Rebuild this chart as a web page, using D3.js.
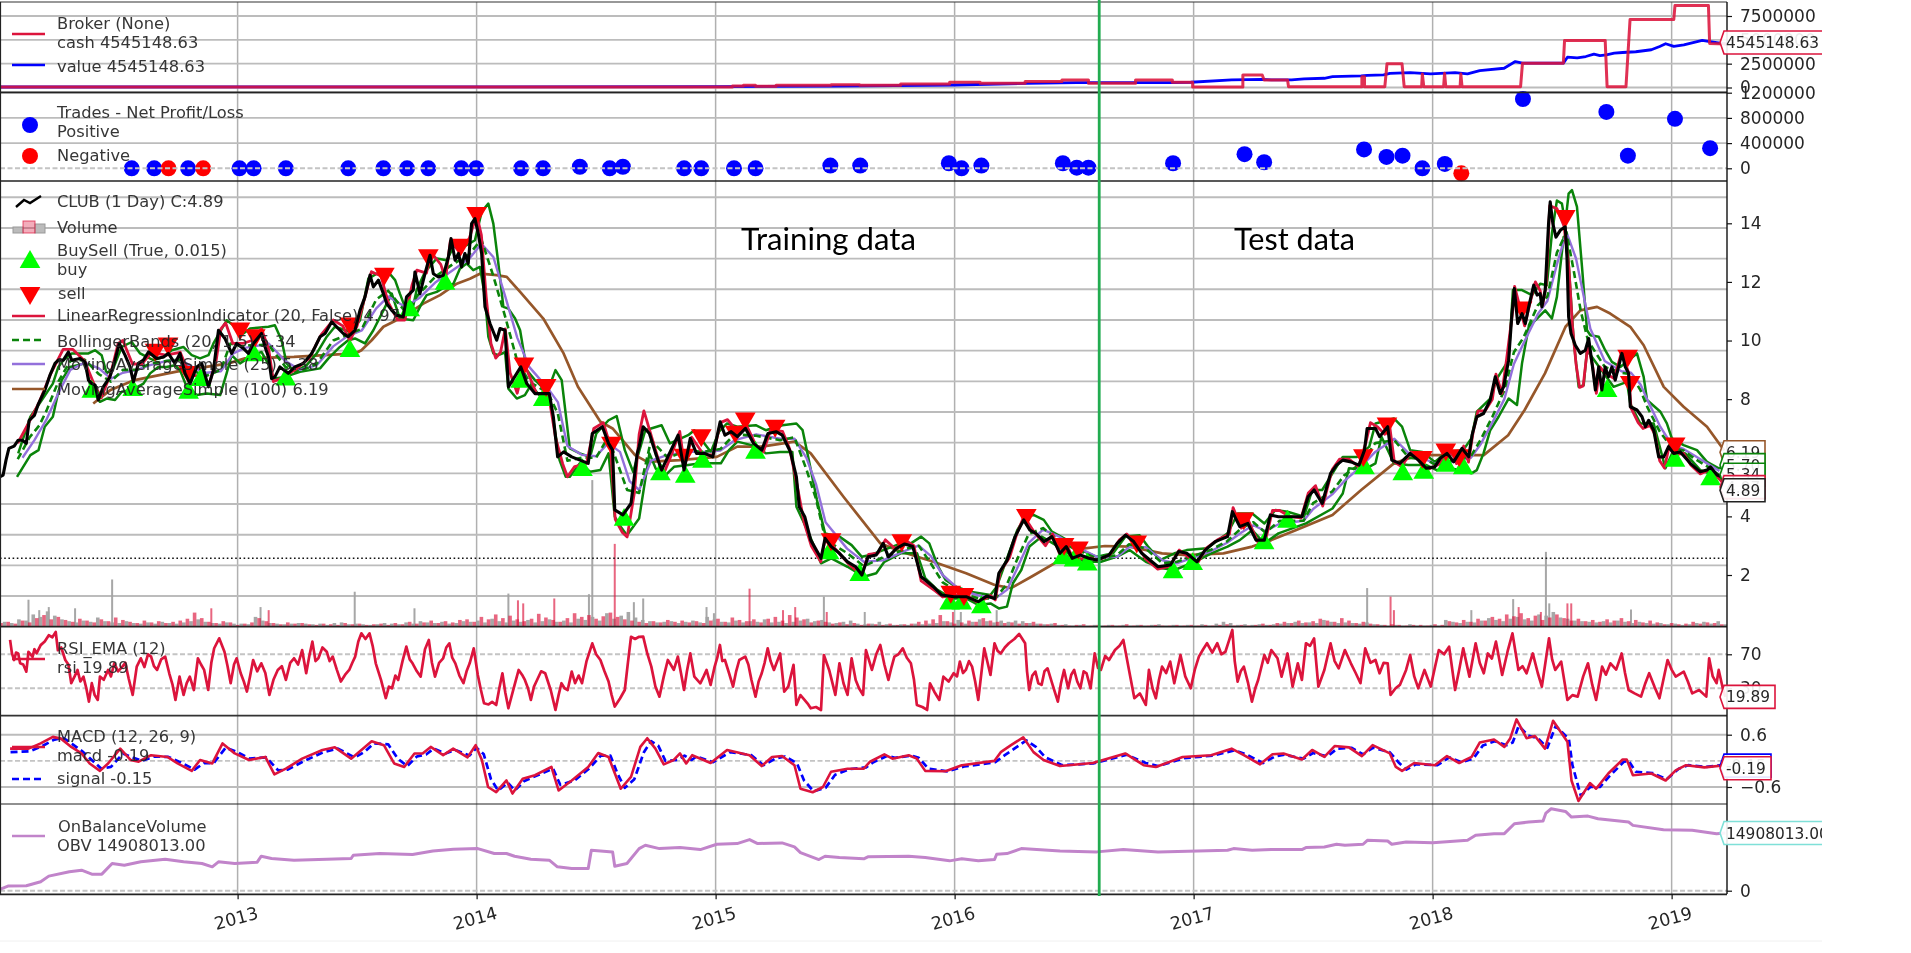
<!DOCTYPE html>
<html>
<head>
<meta charset="utf-8">
<script src="https://cdnjs.cloudflare.com/ajax/libs/d3/7.8.5/d3.min.js"></script>
<style>
html,body{margin:0;padding:0;background:#fff;overflow:hidden}
svg{display:block;filter:blur(.45px)}
</style>
</head>
<body>
<svg id="chart" width="1911" height="953" font-family="DejaVu Sans"></svg>
<script>
// DATA: [decimal year, value]
var years = [2013,2014,2015,2016,2017,2018,2019];
var splitYear = 2016.605;
var dottedPrice = 2.57;

// broker panel, in millions
var cash = [[2012,.05],[2014.3,.05],[2015.07,.04],[2015.07,.16],[2015.116,.16],[2015.116,.23],[2015.167,.23],[2015.167,.12],[2015.253,.12],[2015.253,.23],[2015.483,.23],[2015.483,.3],[2015.603,.3],[2015.603,.23],[2015.774,.23],[2015.774,.37],[2015.979,.37],[2015.979,.55],[2016.107,.55],[2016.107,.44],[2016.295,.44],[2016.295,.62],[2016.449,.62],[2016.449,.79],[2016.56,.79],[2016.56,.44],[2016.757,.44],[2016.757,.79],[2016.911,.79],[2016.911,.55],[2016.996,.55],[2016.996,.05],[2017.206,.05],[2017.206,1.32],[2017.287,1.32],[2017.295,.79],[2017.393,.79],[2017.397,.09],[2017.704,.09],[2017.704,1.14],[2017.715,1.14],[2017.715,.09],[2017.8,.09],[2017.809,2.48],[2017.872,2.48],[2017.881,.09],[2017.954,.09],[2017.957,1.42],[2017.963,.09],[2018.046,.09],[2018.05,1.49],[2018.055,.09],[2018.115,.09],[2018.118,1.42],[2018.123,.09],[2018.368,.09],[2018.376,2.55],[2018.547,2.55],[2018.552,4.94],[2018.722,4.94],[2018.73,.09],[2018.809,.09],[2018.826,7.12],[2019.009,7.12],[2019.014,8.6],[2019.154,8.6],[2019.159,4.62],[2019.23,4.55]];
var value = [[2012,.05],[2014,.06],[2015,.1],[2015.5,.15],[2016,.26],[2016.304,.44],[2016.509,.51],[2016.902,.51],[2016.988,.55],[2017.159,.79],[2017.287,.86],[2017.325,.79],[2017.41,.79],[2017.462,.9],[2017.547,.97],[2017.581,1.14],[2017.701,1.21],[2017.727,1.28],[2017.795,1.32],[2017.821,1.49],[2017.906,1.56],[2017.992,1.42],[2018.094,1.56],[2018.146,1.42],[2018.197,1.78],[2018.299,2.02],[2018.346,2.72],[2018.376,2.55],[2018.547,2.55],[2018.564,3.18],[2018.605,3.1],[2018.641,3.25],[2018.675,3.5],[2018.7,3.35],[2018.727,3.43],[2018.76,3.6],[2018.795,3.67],[2018.85,3.75],[2018.915,3.96],[2018.95,4.3],[2018.975,4.59],[2019.009,4.31],[2019.051,4.48],[2019.128,4.94],[2019.154,4.83],[2019.23,4.55]];

// trades panel
var tradesPos = [[2012.557,0],[2012.651,0],[2012.793,0],[2013.008,0],[2013.067,0],[2013.202,0],[2013.463,0],[2013.61,0],[2013.709,0],[2013.798,0],[2013.936,0],[2013.998,0],[2014.186,0],[2014.278,0],[2014.432,25000],[2014.557,0],[2014.612,25000],[2014.868,0],[2014.94,0],[2015.077,0],[2015.167,0],[2015.48,43000],[2015.605,43000],[2015.976,80000],[2016.029,0],[2016.112,43000],[2016.453,80000],[2016.511,10000],[2016.56,10000],[2016.914,80000],[2017.213,224000],[2017.295,96000],[2017.713,300000],[2017.807,180000],[2017.874,200000],[2017.957,0],[2018.051,70000],[2018.378,1100000],[2018.727,895000],[2018.817,200000],[2019.014,785000],[2019.161,320000]];
var tradesNeg = [[2012.711,0],[2012.856,0],[2018.12,-80000]];

// price panel
var closePrice = [[2012.005,5.35],[2012.019,5.41],[2012.031,5.92],[2012.043,6.32],[2012.065,6.4],[2012.082,6.6],[2012.099,6.6],[2012.116,6.49],[2012.128,7.28],[2012.15,7.45],[2012.167,7.85],[2012.194,8.31],[2012.215,8.82],[2012.236,9.22],[2012.25,9.33],[2012.271,9.33],[2012.292,9.61],[2012.306,9.33],[2012.341,9.39],[2012.362,9.27],[2012.376,8.65],[2012.39,8.53],[2012.404,8.48],[2012.417,7.97],[2012.438,8.42],[2012.466,8.76],[2012.487,9.33],[2012.505,9.9],[2012.529,9.5],[2012.55,9.1],[2012.564,8.59],[2012.585,9.22],[2012.606,9.33],[2012.627,9.61],[2012.661,9.39],[2012.69,9.44],[2012.71,9.56],[2012.738,9.22],[2012.759,9.56],[2012.78,8.88],[2012.801,8.53],[2012.829,9.1],[2012.85,9.22],[2012.878,8.42],[2012.899,8.99],[2012.92,10.35],[2012.947,10.07],[2012.975,9.56],[2012.996,9.9],[2013.024,9.73],[2013.045,9.56],[2013.066,9.9],[2013.1,10.24],[2013.115,9.78],[2013.129,9.44],[2013.142,8.7],[2013.156,8.76],[2013.177,9.1],[2013.212,8.88],[2013.24,9.1],[2013.275,9.22],[2013.31,9.56],[2013.324,9.78],[2013.345,10.13],[2013.366,10.24],[2013.394,10.64],[2013.421,10.41],[2013.442,10.24],[2013.463,10.13],[2013.491,10.35],[2013.512,11.03],[2013.533,11.49],[2013.554,12.23],[2013.568,11.83],[2013.589,12.06],[2013.61,11.6],[2013.624,11.26],[2013.645,11.03],[2013.666,10.86],[2013.693,10.81],[2013.707,11.49],[2013.735,11.72],[2013.742,12.34],[2013.763,11.6],[2013.784,12.28],[2013.805,12.91],[2013.819,12.28],[2013.84,12.17],[2013.861,12.23],[2013.882,12.85],[2013.893,13.48],[2013.91,12.74],[2013.924,12.97],[2013.937,12.51],[2013.951,12.97],[2013.965,12.63],[2013.979,13.99],[2013.993,14.16],[2014.007,13.65],[2014.021,12.97],[2014.035,11.15],[2014.056,10.58],[2014.084,10.01],[2014.098,10.41],[2014.119,10.35],[2014.133,8.42],[2014.159,8.76],[2014.185,9.1],[2014.21,8.53],[2014.244,8.19],[2014.304,8.19],[2014.321,7.4],[2014.339,6.03],[2014.364,6.2],[2014.398,6.03],[2014.432,5.92],[2014.467,5.81],[2014.484,6.83],[2014.526,7.06],[2014.552,6.49],[2014.569,6.26],[2014.578,4.22],[2014.612,4.05],[2014.646,4.44],[2014.672,6.15],[2014.68,6.38],[2014.697,7.06],[2014.723,6.83],[2014.749,6.15],[2014.774,5.58],[2014.8,6.03],[2014.843,6.77],[2014.868,5.58],[2014.894,6.66],[2014.92,6.15],[2014.954,6.15],[2014.988,6.03],[2015.019,7.23],[2015.039,6.77],[2015.065,6.89],[2015.091,6.72],[2015.125,7.0],[2015.159,6.49],[2015.193,6.26],[2015.219,6.83],[2015.253,6.89],[2015.279,6.77],[2015.313,6.2],[2015.338,5.35],[2015.35,4.33],[2015.373,3.99],[2015.398,3.19],[2015.441,2.57],[2015.458,3.25],[2015.484,2.97],[2015.518,2.74],[2015.552,2.45],[2015.586,2.28],[2015.612,2.0],[2015.638,2.62],[2015.672,2.68],[2015.701,3.08],[2015.723,2.62],[2015.757,2.91],[2015.791,3.06],[2015.825,2.97],[2015.86,1.94],[2015.911,1.6],[2015.945,1.32],[2015.997,1.26],[2016.048,1.26],[2016.099,1.09],[2016.134,1.28],[2016.168,1.2],[2016.185,2.06],[2016.22,2.51],[2016.253,3.31],[2016.289,3.88],[2016.315,3.53],[2016.34,3.42],[2016.374,3.14],[2016.407,3.31],[2016.441,2.74],[2016.467,2.97],[2016.492,2.57],[2016.526,2.68],[2016.561,2.57],[2016.595,2.51],[2016.646,2.68],[2016.68,3.08],[2016.715,3.36],[2016.749,3.14],[2016.783,2.74],[2016.817,2.51],[2016.851,2.28],[2016.903,2.34],[2016.937,2.8],[2016.971,2.74],[2017.014,2.45],[2017.048,2.85],[2017.09,3.14],[2017.142,3.31],[2017.162,4.16],[2017.193,3.65],[2017.227,3.76],[2017.261,3.19],[2017.296,3.19],[2017.321,4.05],[2017.355,3.99],[2017.393,3.99],[2017.453,3.99],[2017.479,4.67],[2017.504,4.9],[2017.538,4.44],[2017.573,5.47],[2017.598,5.75],[2017.624,5.92],[2017.658,5.86],[2017.692,5.75],[2017.715,6.26],[2017.726,7.0],[2017.761,7.0],[2017.778,6.72],[2017.812,7.06],[2017.829,5.92],[2017.863,5.81],[2017.906,6.15],[2017.94,5.92],[2017.974,5.64],[2018.009,5.69],[2018.032,5.98],[2018.06,6.15],[2018.088,5.86],[2018.123,6.32],[2018.151,6.03],[2018.165,6.77],[2018.185,7.4],[2018.213,7.51],[2018.241,7.97],[2018.262,8.76],[2018.283,8.19],[2018.297,8.42],[2018.318,9.33],[2018.332,10.92],[2018.342,11.77],[2018.356,10.58],[2018.374,10.92],[2018.388,10.58],[2018.402,11.15],[2018.423,11.89],[2018.437,11.55],[2018.45,11.6],[2018.457,11.15],[2018.471,11.72],[2018.485,13.99],[2018.492,14.73],[2018.503,13.99],[2018.516,13.53],[2018.534,13.76],[2018.555,13.88],[2018.562,12.85],[2018.569,10.81],[2018.579,10.24],[2018.597,9.84],[2018.618,9.56],[2018.639,9.67],[2018.653,10.07],[2018.667,9.22],[2018.681,8.31],[2018.695,9.1],[2018.708,8.31],[2018.722,9.1],[2018.736,8.76],[2018.75,9.1],[2018.764,8.65],[2018.778,9.1],[2018.792,9.56],[2018.806,9.1],[2018.82,8.88],[2018.827,7.74],[2018.855,7.63],[2018.876,7.4],[2018.89,7.06],[2018.904,7.28],[2018.925,6.94],[2018.946,6.03],[2018.967,6.03],[2018.987,6.38],[2019.008,6.15],[2019.036,6.2],[2019.078,5.81],[2019.12,5.52],[2019.148,5.58],[2019.162,5.69],[2019.19,5.41],[2019.225,5.3]];
var lri = [[2012.08,6.5],[2012.12,7.1],[2012.17,7.9],[2012.22,8.9],[2012.27,9.7],[2012.31,9.7],[2012.36,9.3],[2012.4,8.5],[2012.43,8.05],[2012.47,8.9],[2012.5,9.9],[2012.52,10.0],[2012.56,9.2],[2012.6,9.2],[2012.64,9.6],[2012.7,9.5],[2012.76,9.6],[2012.8,8.8],[2012.83,8.8],[2012.88,8.5],[2012.91,9.3],[2012.93,10.4],[2012.95,10.6],[2012.98,9.9],[2013.02,9.9],[2013.06,10.0],[2013.1,10.4],[2013.13,9.7],[2013.15,8.6],[2013.18,8.7],[2013.24,9.0],[2013.3,9.4],[2013.35,10.2],[2013.4,10.7],[2013.44,10.5],[2013.47,10.0],[2013.5,10.5],[2013.54,11.7],[2013.56,12.35],[2013.6,12.2],[2013.63,11.3],[2013.67,10.7],[2013.7,10.7],[2013.73,11.9],[2013.75,12.4],[2013.79,12.3],[2013.81,13.0],[2013.85,12.6],[2013.87,12.1],[2013.89,13.4],[2013.93,13.0],[2013.97,13.5],[2014.0,14.3],[2014.02,13.6],[2014.04,11.5],[2014.06,9.9],[2014.08,9.4],[2014.1,9.6],[2014.12,10.4],[2014.14,8.9],[2014.17,8.2],[2014.2,9.2],[2014.25,8.2],[2014.3,8.2],[2014.33,6.7],[2014.36,5.8],[2014.38,5.35],[2014.41,5.7],[2014.46,5.8],[2014.49,7.0],[2014.53,7.2],[2014.56,6.4],[2014.58,3.9],[2014.61,3.45],[2014.63,3.3],[2014.66,4.8],[2014.68,6.8],[2014.7,7.6],[2014.74,6.5],[2014.78,5.4],[2014.82,6.2],[2014.85,6.9],[2014.87,5.7],[2014.9,6.7],[2014.95,6.1],[2014.99,6.1],[2015.02,7.2],[2015.05,7.3],[2015.1,6.8],[2015.13,7.1],[2015.17,6.4],[2015.2,6.2],[2015.23,6.95],[2015.28,6.9],[2015.31,6.3],[2015.34,5.1],[2015.37,3.8],[2015.4,3.0],[2015.44,2.45],[2015.46,3.3],[2015.5,2.9],[2015.56,2.35],[2015.61,2.0],[2015.64,2.7],[2015.68,2.75],[2015.71,3.2],[2015.75,2.9],[2015.8,3.15],[2015.83,3.0],[2015.86,1.8],[2015.92,1.45],[2015.95,1.25],[2016.0,1.3],[2016.05,1.3],[2016.1,1.05],[2016.15,1.3],[2016.17,1.15],[2016.19,2.1],[2016.23,2.6],[2016.26,3.4],[2016.29,4.0],[2016.33,3.5],[2016.38,3.0],[2016.41,3.4],[2016.44,2.7],[2016.47,3.0],[2016.5,2.5],[2016.56,2.6],[2016.6,2.5],[2016.65,2.7],[2016.69,3.2],[2016.72,3.4],[2016.76,3.05],[2016.8,2.55],[2016.85,2.2],[2016.9,2.3],[2016.94,2.85],[2016.98,2.6],[2017.02,2.45],[2017.05,2.9],[2017.1,3.2],[2017.15,3.4],[2017.165,4.3],[2017.2,3.6],[2017.23,3.85],[2017.27,3.1],[2017.3,3.15],[2017.33,4.2],[2017.36,4.2],[2017.4,4.0],[2017.45,3.95],[2017.48,4.8],[2017.51,5.05],[2017.54,4.35],[2017.58,5.6],[2017.61,5.95],[2017.65,5.95],[2017.69,5.7],[2017.72,6.5],[2017.74,7.2],[2017.77,7.05],[2017.8,6.8],[2017.82,7.1],[2017.84,5.85],[2017.87,5.7],[2017.91,6.2],[2017.95,5.85],[2017.98,5.6],[2018.02,5.75],[2018.05,6.0],[2018.08,6.2],[2018.1,5.8],[2018.13,6.4],[2018.15,5.85],[2018.17,6.9],[2018.19,7.6],[2018.22,7.6],[2018.25,8.0],[2018.265,8.85],[2018.29,8.2],[2018.31,9.4],[2018.335,11.0],[2018.343,11.85],[2018.36,11.3],[2018.385,10.5],[2018.405,11.2],[2018.43,12.0],[2018.45,11.7],[2018.46,11.2],[2018.475,11.9],[2018.49,14.6],[2018.52,14.5],[2018.55,13.9],[2018.57,12.5],[2018.585,10.5],[2018.6,9.2],[2018.615,8.4],[2018.63,8.45],[2018.65,9.9],[2018.67,9.1],[2018.685,8.2],[2018.7,9.1],[2018.72,8.9],[2018.76,8.7],[2018.79,9.6],[2018.82,8.9],[2018.83,7.7],[2018.86,7.2],[2018.88,7.0],[2018.91,7.1],[2018.93,6.8],[2018.95,5.9],[2018.97,5.65],[2018.99,6.4],[2019.01,6.1],[2019.05,6.15],[2019.08,5.75],[2019.12,5.45],[2019.16,5.6],[2019.19,5.35],[2019.22,5.1]];
var bbTop = [[2012.082,6.15],[2012.133,7.4],[2012.167,7.8],[2012.227,8.53],[2012.25,9.1],[2012.271,9.33],[2012.306,9.56],[2012.376,9.56],[2012.404,9.67],[2012.431,9.5],[2012.452,8.88],[2012.48,9.05],[2012.515,9.78],[2012.557,9.95],[2012.592,9.56],[2012.62,9.44],[2012.648,9.33],[2012.69,9.44],[2012.724,9.67],[2012.773,9.78],[2012.808,9.5],[2012.843,9.39],[2012.878,9.5],[2012.899,9.9],[2012.954,10.69],[2012.982,10.52],[2013.024,10.24],[2013.052,10.41],[2013.129,10.47],[2013.156,10.52],[2013.184,10.01],[2013.205,9.22],[2013.24,8.93],[2013.289,9.16],[2013.331,9.56],[2013.373,10.13],[2013.407,10.47],[2013.47,10.3],[2013.512,10.69],[2013.547,12.11],[2013.582,12.28],[2013.624,12.4],[2013.659,12.06],[2013.679,11.6],[2013.7,11.15],[2013.728,10.92],[2013.749,11.72],[2013.784,12.34],[2013.833,12.8],[2013.875,12.74],[2013.903,13.19],[2013.958,13.25],[2013.993,13.42],[2014.021,14.39],[2014.049,14.67],[2014.07,13.99],[2014.091,12.63],[2014.112,11.15],[2014.133,11.09],[2014.161,10.75],[2014.182,10.35],[2014.21,8.99],[2014.244,8.65],[2014.296,8.25],[2014.33,8.99],[2014.356,8.65],[2014.39,6.32],[2014.432,6.15],[2014.475,6.03],[2014.501,6.83],[2014.552,7.28],[2014.586,7.42],[2014.62,6.26],[2014.655,5.52],[2014.706,6.94],[2014.774,7.11],[2014.809,6.49],[2014.885,6.77],[2014.911,6.94],[2014.98,6.2],[2015.014,6.89],[2015.048,7.17],[2015.091,7.06],[2015.168,7.11],[2015.21,6.94],[2015.279,7.11],[2015.338,7.17],[2015.364,6.94],[2015.39,5.92],[2015.424,4.56],[2015.458,3.42],[2015.518,3.31],[2015.569,3.02],[2015.612,2.62],[2015.646,2.68],[2015.757,3.02],[2015.817,3.08],[2015.86,3.31],[2015.894,3.08],[2015.928,2.34],[2015.962,1.83],[2016.005,1.6],[2016.065,1.43],[2016.15,1.32],[2016.176,1.6],[2016.262,3.53],[2016.296,3.99],[2016.33,4.05],[2016.373,3.88],[2016.407,3.48],[2016.458,3.25],[2016.492,3.08],[2016.544,2.8],[2016.595,2.62],[2016.663,2.74],[2016.715,3.31],[2016.774,3.36],[2016.809,2.97],[2016.86,2.51],[2016.92,2.74],[2016.971,2.85],[2017.056,2.91],[2017.142,3.42],[2017.185,4.1],[2017.245,4.1],[2017.296,3.76],[2017.342,4.22],[2017.393,4.16],[2017.462,3.99],[2017.496,4.9],[2017.538,4.9],[2017.581,5.47],[2017.624,6.03],[2017.684,6.03],[2017.735,6.38],[2017.761,7.17],[2017.838,7.34],[2017.872,7.06],[2017.906,6.26],[2017.957,6.2],[2018.009,5.86],[2018.06,6.2],[2018.128,6.26],[2018.162,6.66],[2018.185,7.57],[2018.241,8.02],[2018.269,8.7],[2018.318,9.33],[2018.336,11.72],[2018.374,11.72],[2018.416,11.55],[2018.45,11.94],[2018.478,11.89],[2018.499,13.65],[2018.52,14.78],[2018.541,14.67],[2018.555,13.99],[2018.569,15.01],[2018.583,15.13],[2018.604,14.56],[2018.625,12.51],[2018.646,10.35],[2018.66,10.18],[2018.695,10.13],[2018.722,9.67],[2018.75,9.27],[2018.785,9.1],[2018.855,9.56],[2018.883,8.76],[2018.897,7.97],[2018.953,7.57],[2018.98,7.17],[2019.001,6.66],[2019.05,6.43],[2019.106,6.26],[2019.148,5.86],[2019.197,5.64],[2019.225,5.7]];
var bbBottom = [[2012.077,5.35],[2012.133,6.09],[2012.167,6.26],[2012.193,7.06],[2012.227,7.4],[2012.25,8.25],[2012.264,8.65],[2012.299,9.1],[2012.362,9.22],[2012.383,8.48],[2012.424,7.91],[2012.452,8.02],[2012.487,7.97],[2012.515,8.25],[2012.557,8.31],[2012.606,8.53],[2012.634,8.88],[2012.668,9.1],[2012.703,9.1],[2012.738,9.16],[2012.759,8.99],[2012.787,8.42],[2012.829,8.14],[2012.871,8.19],[2012.927,8.14],[2012.954,8.88],[2012.975,9.5],[2013.01,9.22],[2013.052,9.44],[2013.1,9.61],[2013.135,9.1],[2013.149,8.7],[2013.198,8.76],[2013.261,8.93],[2013.345,9.05],[2013.38,9.39],[2013.428,9.78],[2013.463,10.01],[2013.491,10.07],[2013.533,9.9],[2013.568,10.35],[2013.61,11.03],[2013.645,11.6],[2013.679,10.75],[2013.735,10.69],[2013.77,11.26],[2013.791,11.55],[2013.833,11.66],[2013.868,11.83],[2013.903,11.94],[2013.93,12.45],[2013.958,12.63],[2013.986,12.4],[2014.014,12.51],[2014.035,11.49],[2014.049,10.13],[2014.07,9.56],[2014.091,9.5],[2014.119,9.6],[2014.133,8.36],[2014.168,8.02],[2014.202,8.14],[2014.227,8.48],[2014.262,8.14],[2014.304,8.19],[2014.347,5.92],[2014.373,5.35],[2014.39,5.35],[2014.432,5.81],[2014.475,5.52],[2014.518,5.58],[2014.552,6.15],[2014.578,3.99],[2014.603,3.65],[2014.629,3.36],[2014.655,3.65],[2014.68,3.93],[2014.723,6.15],[2014.749,5.64],[2014.783,5.35],[2014.826,5.69],[2014.885,5.75],[2014.937,5.81],[2015.022,5.81],[2015.056,6.26],[2015.091,6.55],[2015.176,6.38],[2015.21,6.15],[2015.27,6.2],[2015.321,6.2],[2015.338,4.33],[2015.364,3.88],[2015.39,3.42],[2015.441,2.4],[2015.484,2.57],[2015.552,2.28],[2015.62,1.94],[2015.672,2.06],[2015.706,2.45],[2015.774,2.74],[2015.843,2.74],[2015.877,1.89],[2015.928,1.49],[2015.988,1.2],[2016.048,1.2],[2016.099,.98],[2016.15,1.03],[2016.185,.86],[2016.219,.92],[2016.244,1.72],[2016.279,2.17],[2016.313,2.97],[2016.364,3.31],[2016.424,3.02],[2016.475,2.74],[2016.544,2.45],[2016.612,2.45],[2016.68,2.63],[2016.732,2.85],[2016.8,2.45],[2016.868,2.23],[2016.92,2.17],[2017.005,2.45],[2017.074,2.74],[2017.142,2.97],[2017.193,3.19],[2017.245,3.53],[2017.296,3.08],[2017.355,3.42],[2017.47,3.76],[2017.581,4.27],[2017.624,4.78],[2017.65,5.64],[2017.709,5.58],[2017.761,5.81],[2017.786,6.72],[2017.838,5.81],[2017.897,5.75],[2017.974,5.75],[2018.017,5.58],[2018.077,5.64],[2018.162,5.47],[2018.185,5.58],[2018.213,6.15],[2018.241,6.94],[2018.276,7.4],[2018.318,8.02],[2018.353,7.8],[2018.374,9.22],[2018.402,10.47],[2018.444,10.81],[2018.471,11.03],[2018.499,10.75],[2018.52,11.49],[2018.548,13.53],[2018.562,13.53],[2018.59,10.01],[2018.611,8.42],[2018.632,8.48],[2018.646,9.67],[2018.757,8.42],[2018.813,8.59],[2018.827,7.85],[2018.869,7.17],[2018.925,7.17],[2018.974,5.64],[2019.008,6.26],[2019.057,6.15],[2019.12,5.58],[2019.197,5.35],[2019.225,5.2]];
var bbMid = [[2012.08,5.95],[2012.13,6.7],[2012.17,7.1],[2012.2,7.6],[2012.25,8.6],[2012.3,9.3],[2012.36,9.35],[2012.42,8.85],[2012.47,8.6],[2012.52,9.0],[2012.58,9.0],[2012.63,9.2],[2012.7,9.3],[2012.76,9.35],[2012.8,9.0],[2012.87,8.8],[2012.93,9.0],[2012.97,9.9],[2013.02,9.8],[2013.06,9.85],[2013.13,9.85],[2013.2,9.1],[2013.26,8.95],[2013.33,9.2],[2013.4,10.0],[2013.46,10.2],[2013.52,10.4],[2013.58,11.4],[2013.63,11.7],[2013.7,11.0],[2013.76,11.6],[2013.83,12.2],[2013.9,12.6],[2013.97,12.95],[2014.02,13.45],[2014.07,12.2],[2014.12,10.8],[2014.17,9.3],[2014.22,8.6],[2014.3,8.2],[2014.34,7.5],[2014.38,5.9],[2014.44,6.0],[2014.5,6.0],[2014.55,6.7],[2014.59,5.8],[2014.63,4.9],[2014.68,4.8],[2014.73,6.6],[2014.8,6.0],[2014.88,6.25],[2014.95,6.2],[2015.02,6.3],[2015.08,6.8],[2015.17,6.75],[2015.27,6.6],[2015.33,6.7],[2015.38,5.6],[2015.42,4.6],[2015.46,3.2],[2015.55,2.75],[2015.62,2.3],[2015.7,2.6],[2015.8,2.9],[2015.85,3.0],[2015.9,2.4],[2015.95,1.75],[2016.02,1.4],[2016.1,1.2],[2016.17,1.2],[2016.22,1.7],[2016.26,2.5],[2016.31,3.4],[2016.37,3.6],[2016.44,3.15],[2016.5,2.9],[2016.6,2.55],[2016.68,2.68],[2016.73,3.05],[2016.8,2.9],[2016.87,2.4],[2016.93,2.45],[2017.0,2.65],[2017.07,2.85],[2017.14,3.15],[2017.2,3.6],[2017.25,3.8],[2017.3,3.45],[2017.36,3.85],[2017.46,3.85],[2017.5,4.45],[2017.58,4.85],[2017.63,5.4],[2017.7,5.8],[2017.76,6.5],[2017.84,6.6],[2017.9,6.0],[2017.97,5.95],[2018.02,5.72],[2018.08,5.9],[2018.16,6.05],[2018.2,6.6],[2018.25,7.4],[2018.3,8.3],[2018.34,9.6],[2018.38,10.1],[2018.44,11.2],[2018.48,11.5],[2018.52,13.0],[2018.56,13.7],[2018.59,12.4],[2018.62,11.0],[2018.65,10.0],[2018.72,9.1],[2018.79,8.9],[2018.83,8.85],[2018.87,8.3],[2018.9,7.7],[2018.95,6.9],[2019.0,6.35],[2019.05,6.25],[2019.1,5.95],[2019.15,5.7],[2019.2,5.4]];
var sma25 = [[2012.1,6.0],[2012.15,6.6],[2012.2,7.3],[2012.25,8.2],[2012.3,9.0],[2012.36,9.25],[2012.42,9.05],[2012.47,8.7],[2012.52,8.9],[2012.58,9.0],[2012.63,9.15],[2012.7,9.3],[2012.76,9.35],[2012.82,9.05],[2012.87,8.9],[2012.93,8.95],[2012.98,9.55],[2013.03,9.75],[2013.07,9.8],[2013.13,9.9],[2013.2,9.3],[2013.26,9.0],[2013.33,9.15],[2013.4,9.8],[2013.46,10.15],[2013.52,10.35],[2013.58,11.1],[2013.63,11.5],[2013.7,11.15],[2013.76,11.45],[2013.83,12.0],[2013.9,12.4],[2013.97,12.8],[2014.02,13.3],[2014.07,12.85],[2014.12,11.5],[2014.17,10.1],[2014.22,9.1],[2014.3,8.35],[2014.34,7.9],[2014.38,6.4],[2014.44,6.1],[2014.5,6.05],[2014.55,6.5],[2014.6,6.2],[2014.64,5.2],[2014.68,4.9],[2014.73,5.9],[2014.8,6.1],[2014.88,6.2],[2014.95,6.2],[2015.02,6.25],[2015.08,6.6],[2015.17,6.8],[2015.27,6.65],[2015.33,6.65],[2015.38,6.0],[2015.42,5.1],[2015.46,3.8],[2015.55,2.9],[2015.62,2.45],[2015.7,2.5],[2015.8,2.85],[2015.85,3.0],[2015.9,2.65],[2015.95,2.0],[2016.02,1.5],[2016.1,1.3],[2016.17,1.2],[2016.22,1.5],[2016.26,2.2],[2016.31,3.1],[2016.37,3.55],[2016.44,3.3],[2016.5,3.0],[2016.6,2.6],[2016.68,2.62],[2016.73,2.95],[2016.8,2.95],[2016.87,2.5],[2016.93,2.4],[2017.0,2.6],[2017.07,2.8],[2017.14,3.1],[2017.2,3.45],[2017.25,3.7],[2017.3,3.5],[2017.36,3.75],[2017.46,3.85],[2017.5,4.25],[2017.58,4.75],[2017.63,5.2],[2017.7,5.7],[2017.76,6.2],[2017.84,6.65],[2017.9,6.15],[2017.97,5.95],[2018.02,5.75],[2018.08,5.85],[2018.16,6.0],[2018.2,6.45],[2018.25,7.2],[2018.3,8.0],[2018.34,9.2],[2018.38,9.9],[2018.44,10.9],[2018.48,11.35],[2018.52,12.6],[2018.56,13.7],[2018.6,12.8],[2018.63,11.6],[2018.66,10.4],[2018.72,9.3],[2018.79,8.95],[2018.83,8.9],[2018.87,8.5],[2018.9,7.95],[2018.95,7.1],[2019.0,6.45],[2019.05,6.3],[2019.1,6.05],[2019.15,5.8],[2019.2,5.55]];
var sma100 = [[2012.396,7.85],[2012.466,8.3],[2012.569,8.65],[2012.75,8.95],[2012.962,9.22],[2013.031,9.39],[2013.236,9.44],[2013.492,9.56],[2013.518,9.67],[2013.561,10.01],[2013.61,10.47],[2013.679,10.75],[2013.777,11.26],[2013.847,11.55],[2013.917,11.94],[2013.972,12.11],[2014.014,12.28],[2014.084,12.23],[2014.126,12.17],[2014.182,11.66],[2014.279,10.75],[2014.364,9.56],[2014.424,8.42],[2014.518,7.23],[2014.569,7.0],[2014.663,6.09],[2014.714,5.86],[2014.851,5.92],[2015.005,6.03],[2015.091,6.38],[2015.193,6.38],[2015.33,6.55],[2015.398,6.15],[2015.535,4.67],[2015.689,3.08],[2015.774,2.8],[2015.911,2.45],[2016.048,2.06],[2016.168,1.66],[2016.236,1.55],[2016.321,1.94],[2016.441,2.51],[2016.544,2.91],[2016.629,2.99],[2016.732,2.97],[2016.868,2.74],[2016.971,2.68],[2017.125,2.74],[2017.245,2.97],[2017.325,3.19],[2017.427,3.53],[2017.581,4.05],[2017.701,4.9],[2017.838,5.81],[2017.94,6.09],[2018.077,6.09],[2018.214,6.09],[2018.316,6.77],[2018.385,7.63],[2018.47,8.88],[2018.556,10.47],[2018.618,11.03],[2018.688,11.15],[2018.743,10.92],[2018.827,10.47],[2018.883,9.84],[2018.967,8.42],[2019.05,7.74],[2019.148,7.06],[2019.22,6.25]];
var buys = [[2012.39,8.25],[2012.561,8.31],[2012.795,8.22],[2012.846,8.65],[2013.068,9.5],[2013.202,8.67],[2013.47,9.64],[2013.72,11.03],[2013.868,11.94],[2014.184,8.59],[2014.279,7.97],[2014.443,5.58],[2014.617,3.88],[2014.769,5.44],[2014.873,5.35],[2014.945,5.86],[2015.167,6.17],[2015.475,2.74],[2015.603,2.0],[2015.979,1.03],[2016.03,1.03],[2016.112,.9],[2016.453,2.57],[2016.5,2.49],[2016.555,2.36],[2016.914,2.09],[2016.996,2.37],[2017.295,3.08],[2017.393,3.82],[2017.715,5.64],[2017.875,5.44],[2017.963,5.49],[2018.057,5.73],[2018.128,5.64],[2018.73,8.28],[2019.014,5.9],[2019.163,5.27]];
var sells = [[2012.655,9.69],[2012.709,9.9],[2012.795,8.93],[2013.01,10.41],[2013.074,10.18],[2013.47,10.58],[2013.614,12.28],[2013.798,12.91],[2013.933,13.27],[2014.0,14.35],[2014.198,9.22],[2014.291,8.48],[2014.564,6.51],[2014.868,6.1],[2014.94,6.77],[2015.082,6.89],[2015.124,7.34],[2015.249,7.09],[2015.483,3.22],[2015.779,3.19],[2015.984,1.43],[2016.039,1.35],[2016.3,4.05],[2016.458,3.06],[2016.518,2.94],[2016.762,3.14],[2017.21,3.93],[2017.71,6.09],[2017.809,7.17],[2017.957,6.03],[2018.055,6.28],[2018.111,6.09],[2018.374,11.13],[2018.555,14.25],[2018.816,9.48],[2018.827,8.59],[2019.015,6.49]];

// volume, in millions, one reading per 0.03 year plus the tall spikes
var volDown = [.6,.8,.5,1.0,.7,1.4,1.9,1.2,1.6,1.1,.8,1.3,1.0,.7,1.2,.9,1.5,1.1,.8,.6,1.0,.7,.9,.6,.8,1.0,1.3,2.3,1.4,.8,.6,.9,.7,
.3,.5,.7,1.4,.9,.6,.4,.7,.5,.6,.4,.3,.5,.4,.3,.6,.4,.5,.3,.4,.5,.3,.6,.4,.8,.5,.7,1.0,.6,.9,.7,1.1,1.2,
.8,1.6,1.2,2.0,1.4,1.8,1.2,.9,1.3,2.1,1.5,1.1,.8,1.4,2.2,1.6,1.9,1.3,1.7,2.3,1.6,1.2,1.0,.8,.6,.9,.7,1.1,.8,1.0,.7,.9,.6,
1.0,1.3,.8,1.5,1.1,.9,1.2,.7,1.3,1.6,1.0,1.9,1.5,1.2,.7,1.0,.8,.5,.7,.4,.6,.3,.5,.4,.3,.5,.3,.4,.5,.8,1.0,1.2,1.9,
.9,.5,.7,1.0,.8,1.4,1.0,.8,.6,.7,.5,.6,.8,.5,.4,.6,.3,.2,.3,.4,.2,.3,.2,.3,.2,.4,.2,.3,.2,.3,.2,.2,.3,
.2,.3,.2,.3,.2,.3,.4,.2,.3,.2,.3,.5,.3,.6,.8,.6,1.0,.7,.9,1.3,1.0,.8,1.4,1.0,.6,.8,.5,.4,.3,.4,.3,.2,.3,
.3,.2,.4,.3,.9,.7,1.1,.8,1.3,1.0,1.6,1.3,2.0,1.7,2.2,1.4,1.8,1.1,1.5,2.0,1.4,1.0,1.3,.9,1.1,.8,1.2,1.0,1.4,.9,1.1,.7,1.0,
.7,.4,.6,.4,.5,.8,.5,.7,.6,.4];
var volUp = [.8,.6,1.2,1.0,2.0,1.6,2.5,1.8,1.2,.9,.7,1.0,.8,1.5,.9,.7,.6,.9,.6,.5,.7,.5,.8,.6,.5,.7,.9,1.2,.8,.6,.5,.7,.5,
.5,.4,1.6,1.0,.6,.5,.4,.5,.6,.5,.4,.5,.3,.6,.7,.4,.5,.4,.3,.4,.6,.5,.4,.7,.5,.9,.7,.6,.8,.5,.6,.9,.8,
1.0,.7,1.3,.9,.7,1.0,.8,1.1,.7,.9,1.2,.8,1.0,.7,1.3,1.1,1.6,1.0,2.2,1.3,1.8,2.4,1.5,1.1,.9,.7,.8,.9,.6,.8,1.0,.7,1.6,
1.2,.8,.7,1.0,.7,.9,.8,1.2,.7,.8,.6,.8,1.0,1.3,.9,1.1,.7,.6,.8,1.0,.5,.4,.5,.8,.4,.3,.4,.3,.5,.4,.5,.6,.9,
.7,1.1,.5,.8,1.2,.9,.7,1.0,.8,1.0,.9,.6,.5,.4,.5,.3,.4,.2,.3,.2,.3,.2,.3,.2,.3,.2,.3,.2,.3,.4,.2,.3,.2,
.3,.2,.4,.2,.5,.8,.6,.3,.4,.3,.4,.3,.4,.5,.6,.8,.6,.7,.6,1.1,.8,.6,.7,.6,.5,.7,.4,.3,.2,.3,.2,.4,.2,
.2,.3,.2,1.1,.8,.6,.8,.7,1.0,1.4,1.1,.9,1.3,1.6,1.2,1.0,2.0,1.8,2.4,1.5,1.3,1.0,.9,.8,.7,.9,.7,1.0,.8,.6,.8,.6,.5,
.6,.4,.5,.3,.4,.6,.8,.5,.9,.4];
var spikesUp = [[2012.125,4.4],[2012.17,2.7],[2012.21,3.2],[2012.32,3.0],[2012.475,7.7],[2013.096,3.2],[2013.49,5.7],[2013.74,3.0],[2014.133,5.4],[2014.47,5.3],[2014.484,23.9],[2014.658,4.0],[2014.697,4.6],[2014.962,3.2],[2014.993,2.2],[2015.453,4.9],[2015.624,2.4],[2016.026,2.4],[2016.176,2.7],[2017.726,6.3],[2018.162,2.7],[2018.337,4.5],[2018.474,12.2],[2018.488,3.8],[2018.83,2.8]];
var spikesDown = [[2012.89,3.0],[2013.13,2.7],[2014.173,4.3],[2014.195,3.8],[2014.325,4.6],[2014.578,13.5],[2015.142,6.2],[2015.282,2.7],[2015.333,3.2],[2015.465,2.4],[2015.993,2.4],[2017.824,4.9],[2017.838,2.7],[2018.36,3.2],[2018.564,3.8],[2018.58,3.8],[2018.453,2.4]];

// rsi panel
var rsi = [[2012.048,86.9],[2012.056,71],[2012.065,63.3],[2012.073,72],[2012.082,71],[2012.09,59.4],[2012.103,58],[2012.116,49.6],[2012.125,73],[2012.142,67],[2012.15,76],[2012.159,71],[2012.176,80.8],[2012.193,85],[2012.21,92.4],[2012.225,90],[2012.239,96.4],[2012.248,74.8],[2012.262,78],[2012.279,63.3],[2012.292,58],[2012.304,36],[2012.318,44],[2012.33,51.6],[2012.342,38],[2012.355,43.7],[2012.367,30],[2012.378,14.3],[2012.39,36],[2012.402,22],[2012.415,16.3],[2012.424,43.7],[2012.44,40],[2012.458,51.6],[2012.47,44],[2012.484,59.4],[2012.5,50],[2012.518,55.5],[2012.53,60],[2012.544,41.8],[2012.561,22.2],[2012.578,55.5],[2012.595,65.3],[2012.61,55],[2012.625,70],[2012.638,67.3],[2012.65,56],[2012.663,51.6],[2012.68,64],[2012.697,67.3],[2012.714,47.7],[2012.728,34],[2012.74,16.3],[2012.757,43.7],[2012.774,22.2],[2012.787,36],[2012.8,43.7],[2012.817,28],[2012.834,65.3],[2012.847,58],[2012.86,51.6],[2012.877,28],[2012.89,60],[2012.902,77.1],[2012.923,88.8],[2012.945,73],[2012.958,56],[2012.971,36],[2012.985,58],[2012.996,65.3],[2013.013,47.7],[2013.026,38],[2013.039,26.2],[2013.052,44],[2013.065,63.3],[2013.082,50],[2013.099,59.4],[2013.116,48],[2013.133,22.2],[2013.15,40],[2013.168,51.6],[2013.185,56],[2013.202,39.8],[2013.22,60],[2013.236,65.3],[2013.253,58],[2013.27,75],[2013.287,47.7],[2013.3,68],[2013.313,84.9],[2013.326,62],[2013.338,65.3],[2013.355,78],[2013.373,73],[2013.385,62],[2013.398,67.3],[2013.415,52],[2013.432,38],[2013.45,46],[2013.467,51.6],[2013.48,60],[2013.492,67.3],[2013.505,85],[2013.518,94.7],[2013.535,88],[2013.552,94.7],[2013.565,80],[2013.578,59.4],[2013.6,40],[2013.62,18.3],[2013.633,32],[2013.646,30],[2013.66,45],[2013.672,39.8],[2013.69,62],[2013.706,79],[2013.72,64],[2013.732,59.4],[2013.75,50],[2013.766,43.7],[2013.784,76],[2013.8,86.9],[2013.813,60],[2013.826,43.7],[2013.843,60],[2013.86,65.3],[2013.873,78],[2013.886,82.9],[2013.898,66],[2013.911,59.4],[2013.928,45],[2013.945,36],[2013.958,50],[2013.971,59.4],[2013.988,77],[2014.005,45.7],[2014.018,28],[2014.031,12.4],[2014.05,11],[2014.065,14],[2014.082,10.4],[2014.095,30],[2014.108,47.7],[2014.12,25],[2014.133,6.5],[2014.155,30],[2014.176,51.6],[2014.19,46],[2014.202,39.8],[2014.215,30],[2014.227,16.3],[2014.24,32],[2014.253,39.8],[2014.27,50],[2014.287,47.7],[2014.31,28],[2014.33,4.6],[2014.343,22],[2014.355,36],[2014.368,30],[2014.381,28],[2014.398,49.6],[2014.412,36],[2014.427,45],[2014.441,36],[2014.46,62],[2014.484,82.9],[2014.5,70],[2014.518,63.3],[2014.535,50],[2014.552,38],[2014.565,22],[2014.578,8.5],[2014.6,18],[2014.62,28],[2014.633,60],[2014.646,90.6],[2014.663,88],[2014.68,90.6],[2014.697,90.8],[2014.714,71],[2014.731,55.5],[2014.748,32],[2014.765,20.2],[2014.783,43.7],[2014.8,63.3],[2014.812,58],[2014.825,51.6],[2014.842,67.3],[2014.855,48],[2014.868,28],[2014.88,50],[2014.894,71],[2014.911,43.7],[2014.936,35.9],[2014.95,44],[2014.962,51.6],[2014.979,34],[2014.996,55.5],[2015.007,66],[2015.018,81],[2015.028,62],[2015.039,63.3],[2015.056,48],[2015.073,32],[2015.086,50],[2015.099,63.3],[2015.124,67.3],[2015.137,58],[2015.15,39.8],[2015.167,20.2],[2015.18,38],[2015.193,47.7],[2015.205,60],[2015.218,77],[2015.23,62],[2015.244,51.6],[2015.258,62],[2015.27,71],[2015.287,26],[2015.304,32],[2015.326,57.5],[2015.338,10.4],[2015.355,22],[2015.372,16.3],[2015.385,12],[2015.398,6.5],[2015.42,8],[2015.441,4.5],[2015.453,69.2],[2015.475,51.6],[2015.49,35],[2015.501,22.2],[2015.518,59.4],[2015.535,36],[2015.552,22.2],[2015.569,65.3],[2015.586,39.8],[2015.6,30],[2015.617,22.2],[2015.629,75],[2015.654,51.6],[2015.672,70],[2015.689,81],[2015.706,58],[2015.723,39.8],[2015.736,55],[2015.748,67.3],[2015.765,70],[2015.783,77],[2015.8,66],[2015.817,59.4],[2015.83,40],[2015.842,10.4],[2015.865,8],[2015.885,4.5],[2015.897,35.9],[2015.915,26],[2015.936,16.3],[2015.953,43.7],[2015.975,38],[2015.996,47.7],[2016.01,44],[2016.022,61.4],[2016.035,48],[2016.047,51.6],[2016.06,62],[2016.073,55.5],[2016.086,38],[2016.099,16.3],[2016.112,48],[2016.124,77],[2016.138,60],[2016.15,45.7],[2016.167,83],[2016.18,74],[2016.193,71],[2016.21,78],[2016.227,83],[2016.25,88],[2016.27,94],[2016.295,83],[2016.303,50],[2016.312,28],[2016.325,45],[2016.338,49.6],[2016.35,36],[2016.364,34],[2016.376,50],[2016.389,53.5],[2016.41,34],[2016.432,14.3],[2016.445,36],[2016.458,51.6],[2016.475,30],[2016.488,46],[2016.5,51.6],[2016.513,38],[2016.526,30],[2016.54,50],[2016.552,47.7],[2016.569,30],[2016.586,71],[2016.6,54],[2016.612,51.6],[2016.63,68],[2016.646,63.3],[2016.671,75],[2016.69,80],[2016.706,86.9],[2016.72,66],[2016.731,49.6],[2016.752,18.3],[2016.775,24],[2016.8,10.4],[2016.813,51.6],[2016.828,30],[2016.842,18.3],[2016.855,40],[2016.868,55.5],[2016.885,48],[2016.902,61.4],[2016.919,35.9],[2016.945,69.2],[2016.965,44],[2016.988,30],[2017.005,52],[2017.022,67.3],[2017.04,76],[2017.056,83],[2017.078,72],[2017.099,83],[2017.116,70],[2017.133,73],[2017.148,86],[2017.162,98.6],[2017.172,62],[2017.184,37.9],[2017.197,50],[2017.21,55.5],[2017.228,36],[2017.244,14.3],[2017.258,30],[2017.27,39.8],[2017.296,69.2],[2017.31,60],[2017.325,75],[2017.351,65.3],[2017.368,43.7],[2017.393,71],[2017.414,32],[2017.436,59.4],[2017.453,39.8],[2017.47,83],[2017.487,80],[2017.504,88.8],[2017.522,32],[2017.547,51.6],[2017.573,83],[2017.59,62],[2017.607,53.5],[2017.633,75],[2017.658,59.4],[2017.678,48],[2017.698,36],[2017.718,77],[2017.74,60],[2017.761,63.3],[2017.778,47.7],[2017.795,60],[2017.812,59.4],[2017.824,22.2],[2017.845,30],[2017.863,34],[2017.889,51.6],[2017.906,69.2],[2017.923,44],[2017.94,30],[2017.966,51.6],[2017.992,32],[2018.01,55],[2018.026,75],[2018.048,70],[2018.069,79],[2018.094,28],[2018.11,50],[2018.128,77],[2018.154,43.7],[2018.18,83],[2018.197,60],[2018.214,47.7],[2018.231,71],[2018.248,65],[2018.265,84.9],[2018.291,45.7],[2018.315,75],[2018.334,94.7],[2018.359,51.6],[2018.376,56],[2018.393,47.7],[2018.419,71],[2018.44,48],[2018.457,32],[2018.487,88.8],[2018.5,64],[2018.513,51.6],[2018.538,61.4],[2018.564,16.3],[2018.585,22],[2018.607,20.2],[2018.63,44],[2018.65,59.4],[2018.668,34],[2018.684,16.3],[2018.709,55.5],[2018.725,46],[2018.744,59.4],[2018.768,52],[2018.791,71],[2018.805,48],[2018.82,28],[2018.845,24],[2018.872,20.2],[2018.89,36],[2018.906,47.7],[2018.928,32],[2018.949,18.3],[2018.983,63.3],[2019.0,52],[2019.017,43.7],[2019.051,49.6],[2019.068,38],[2019.086,24],[2019.115,28],[2019.145,20.2],[2019.157,65.3],[2019.172,44],[2019.188,36],[2019.197,51.6],[2019.214,30],[2019.225,19.89]];

// macd panel
var macd = [[2012.048,.28],[2012.125,.28],[2012.176,.4],[2012.227,.55],[2012.261,.51],[2012.304,.32],[2012.347,.17],[2012.381,-.06],[2012.424,-.23],[2012.458,-.06],[2012.509,.28],[2012.552,.02],[2012.586,-.02],[2012.638,.13],[2012.706,.09],[2012.749,-.06],[2012.808,-.23],[2012.843,.02],[2012.894,-.06],[2012.937,.4],[2012.988,.17],[2013.048,.02],[2013.116,.09],[2013.154,-.31],[2013.202,-.18],[2013.27,.05],[2013.355,.25],[2013.407,.31],[2013.475,.05],[2013.518,.25],[2013.561,.45],[2013.612,.36],[2013.655,-.06],[2013.697,-.14],[2013.74,.17],[2013.774,.17],[2013.808,.32],[2013.86,.13],[2013.902,.28],[2013.962,.08],[2013.996,.36],[2014.022,.02],[2014.048,-.6],[2014.082,-.72],[2014.125,-.45],[2014.15,-.75],[2014.193,-.41],[2014.244,-.33],[2014.313,-.14],[2014.343,-.68],[2014.398,-.45],[2014.467,-.14],[2014.509,.18],[2014.552,.09],[2014.603,-.64],[2014.646,-.37],[2014.685,.32],[2014.714,.52],[2014.748,.28],[2014.783,-.08],[2014.825,.02],[2014.851,.17],[2014.877,-.06],[2014.902,.13],[2014.979,-.05],[2015.048,.25],[2015.142,.13],[2015.193,-.12],[2015.236,.09],[2015.278,.11],[2015.33,-.1],[2015.355,-.64],[2015.406,-.72],[2015.449,-.6],[2015.483,-.25],[2015.552,-.18],[2015.62,-.18],[2015.646,-.02],[2015.706,.15],[2015.74,.05],[2015.808,.13],[2015.842,.05],[2015.877,-.23],[2015.962,-.24],[2016.03,-.1],[2016.167,0],[2016.193,.2],[2016.236,.36],[2016.287,.54],[2016.33,.2],[2016.372,.02],[2016.441,-.12],[2016.578,-.05],[2016.714,.17],[2016.791,-.1],[2016.842,-.14],[2016.954,.09],[2017.073,.13],[2017.159,.28],[2017.21,.13],[2017.278,-.08],[2017.33,.15],[2017.376,.17],[2017.453,.03],[2017.496,.25],[2017.547,.09],[2017.59,.34],[2017.65,.31],[2017.704,.11],[2017.749,.36],[2017.821,.17],[2017.846,-.14],[2017.872,-.23],[2017.923,-.05],[2018.009,-.1],[2018.06,.11],[2018.111,-.05],[2018.163,.09],[2018.197,.42],[2018.257,.49],[2018.3,.32],[2018.325,.52],[2018.351,.95],[2018.393,.52],[2018.428,.57],[2018.47,.28],[2018.504,.92],[2018.564,.44],[2018.581,-.45],[2018.61,-.92],[2018.658,-.51],[2018.684,-.64],[2018.735,-.29],[2018.795,.03],[2018.812,.03],[2018.838,-.33],[2018.915,-.29],[2018.975,-.45],[2019.017,-.22],[2019.06,-.1],[2019.137,-.15],[2019.225,-.1]];
var signal = [[2012.05,.2],[2012.13,.22],[2012.18,.33],[2012.23,.48],[2012.27,.53],[2012.31,.38],[2012.35,.22],[2012.39,.02],[2012.43,-.18],[2012.47,-.14],[2012.52,.17],[2012.56,.08],[2012.6,0],[2012.65,.1],[2012.71,.09],[2012.76,-.03],[2012.82,-.2],[2012.86,-.05],[2012.9,-.05],[2012.95,.3],[2013.0,.2],[2013.05,.05],[2013.12,.08],[2013.17,-.22],[2013.21,-.2],[2013.28,0],[2013.36,.2],[2013.42,.28],[2013.49,.08],[2013.53,.2],[2013.57,.4],[2013.63,.38],[2013.67,.05],[2013.71,-.12],[2013.75,.1],[2013.79,.15],[2013.82,.28],[2013.87,.17],[2013.91,.25],[2013.97,.12],[2014.0,.3],[2014.03,.15],[2014.06,-.42],[2014.09,-.68],[2014.13,-.5],[2014.16,-.68],[2014.2,-.46],[2014.26,-.32],[2014.32,-.18],[2014.35,-.55],[2014.41,-.45],[2014.47,-.18],[2014.52,.12],[2014.56,.12],[2014.59,-.3],[2014.62,-.62],[2014.66,-.42],[2014.7,.2],[2014.73,.45],[2014.76,.35],[2014.79,0],[2014.84,.02],[2014.87,.12],[2014.9,.02],[2014.92,.1],[2014.99,-.03],[2015.06,.2],[2015.15,.13],[2015.2,-.1],[2015.25,.05],[2015.29,.1],[2015.34,-.05],[2015.37,-.45],[2015.41,-.7],[2015.46,-.62],[2015.5,-.32],[2015.56,-.19],[2015.63,-.15],[2015.66,-.03],[2015.72,.12],[2015.75,.07],[2015.82,.12],[2015.85,.07],[2015.89,-.18],[2015.97,-.24],[2016.04,-.13],[2016.17,-.03],[2016.21,.13],[2016.25,.28],[2016.3,.47],[2016.34,.32],[2016.38,.08],[2016.45,-.1],[2016.58,-.06],[2016.72,.14],[2016.8,-.05],[2016.85,-.12],[2016.96,.06],[2017.08,.12],[2017.17,.24],[2017.22,.15],[2017.29,-.05],[2017.34,.1],[2017.38,.14],[2017.46,.05],[2017.5,.18],[2017.56,.1],[2017.6,.28],[2017.66,.3],[2017.71,.15],[2017.75,.3],[2017.82,.2],[2017.86,-.05],[2017.89,-.2],[2017.93,-.08],[2018.02,-.1],[2018.07,.08],[2018.12,-.03],[2018.17,.05],[2018.21,.35],[2018.26,.45],[2018.31,.36],[2018.335,.42],[2018.36,.8],[2018.4,.58],[2018.44,.52],[2018.48,.3],[2018.515,.8],[2018.57,.5],[2018.585,-.1],[2018.62,-.8],[2018.66,-.6],[2018.7,-.6],[2018.74,-.35],[2018.8,-.02],[2018.82,0],[2018.85,-.25],[2018.92,-.28],[2018.98,-.42],[2019.03,-.18],[2019.07,-.1],[2019.14,-.14],[2019.21,-.1]];

// obv panel, in millions
var obv = [[2012.005,.34],[2012.039,1.2],[2012.116,1.29],[2012.176,2.3],[2012.21,3.77],[2012.296,4.88],[2012.347,5.31],[2012.39,4.28],[2012.432,4.28],[2012.475,7.03],[2012.526,6.6],[2012.595,7.46],[2012.697,8.14],[2012.774,7.46],[2012.851,7.03],[2012.894,6.17],[2012.92,7.46],[2012.988,7.03],[2013.082,7.37],[2013.099,8.91],[2013.142,8.31],[2013.236,7.88],[2013.373,8.14],[2013.475,8.31],[2013.484,9.17],[2013.595,9.6],[2013.732,9.34],[2013.817,10.28],[2013.903,10.71],[2014.005,10.88],[2014.074,9.6],[2014.125,9.6],[2014.159,8.91],[2014.227,8.14],[2014.304,7.88],[2014.338,6.17],[2014.398,5.74],[2014.467,5.74],[2014.48,10.45],[2014.569,10.03],[2014.578,6.34],[2014.629,7.03],[2014.68,10.88],[2014.706,11.74],[2014.765,10.88],[2014.851,11.14],[2014.936,10.63],[2015.005,12.0],[2015.09,12.17],[2015.142,13.2],[2015.176,12.17],[2015.278,12.34],[2015.33,11.31],[2015.355,9.85],[2015.432,8.05],[2015.458,8.91],[2015.518,8.57],[2015.62,8.23],[2015.637,8.74],[2015.808,8.91],[2015.877,8.57],[2015.979,7.71],[2016.03,8.23],[2016.099,7.71],[2016.167,8.05],[2016.176,9.43],[2016.219,9.6],[2016.279,10.88],[2016.441,10.28],[2016.595,10.03],[2016.706,10.63],[2016.851,10.03],[2017.142,10.45],[2017.167,10.88],[2017.245,10.45],[2017.325,10.63],[2017.453,10.63],[2017.47,11.14],[2017.547,11.31],[2017.598,12.0],[2017.633,11.74],[2017.709,12.0],[2017.727,13.02],[2017.812,12.85],[2017.829,12.0],[2017.889,12.6],[2018.0,12.42],[2018.146,13.02],[2018.18,14.31],[2018.257,14.74],[2018.3,14.74],[2018.342,17.31],[2018.402,17.74],[2018.462,18.0],[2018.474,20.05],[2018.496,21.17],[2018.556,20.48],[2018.581,19.02],[2018.65,19.28],[2018.692,18.6],[2018.82,17.74],[2018.838,16.88],[2018.966,15.77],[2019.086,15.6],[2019.188,14.74],[2019.225,14.91]];

// tick labels
var brokerTicks = [0,2.5,5,7.5];
var tradesTicks = [0,400000,800000,1200000];
var priceTicks = [2,4,6,8,10,12,14];
var volTicks = [5,10,15,20,25,30,35,40,45,50,55,60,65,70];
var rsiTicks = [30,70];
var macdTicks = [-0.6,0,0.6];
var obvTicks = [0];

var W = 1727, clipW = 1822;
var GRID = "#bcbcbc", TXT = "#262626", CRIMSON = "#dc143c", GREEN = "#0a840a";

var svg = d3.select("#chart");
svg.append("rect").attr("width",1911).attr("height",953).attr("fill","#fff");
svg.append("clipPath").attr("id","pic").append("rect").attr("width",clipW).attr("height",953);
svg.append("clipPath").attr("id","plot").append("rect").attr("width",W).attr("height",953);

var root = svg.append("g").attr("clip-path","url(#pic)");
var plot = root.append("g").attr("clip-path","url(#plot)");

var x = d3.scaleLinear().domain([2012,2019.23]).range([-1.4,1726.6]);
var yBroker = d3.scaleLinear().domain([0,7.5]).range([87.5,16]);
var yTrades = d3.scaleLinear().domain([0,1200000]).range([168.3,92.7]);
var yPrice = d3.scaleLinear().domain([2,14]).range([575,223.3]);
var yVol = d3.scaleLinear().domain([0,70]).range([626.7,197.3]);
var yRsi = d3.scaleLinear().domain([30,70]).range([688.3,654.3]);
var yMacd = d3.scaleLinear().domain([-0.6,0.6]).range([787,734.7]);
var yObv = d3.scaleLinear().domain([0,14.908]).range([890.7,833]);

function hgrid(vals, y, dash) {
	plot.selectAll(null).data(vals).enter().append("line")
		.attr("x1",0).attr("x2",W)
		.attr("y1",y).attr("y2",y)
		.attr("stroke",dash ? "#c4c4c4" : GRID)
		.attr("stroke-width",1.9)
		.attr("stroke-dasharray",dash ? "5,2.5" : null);
}

function drawLine(data, y, color, width, dash, opacity) {
	var line = d3.line().x(function(d){return x(d[0]);}).y(function(d){return y(d[1]);});
	plot.append("path").datum(data).attr("d",line)
		.attr("fill","none").attr("stroke",color).attr("stroke-width",width)
		.attr("stroke-linejoin","round")
		.attr("stroke-dasharray",dash || null)
		.attr("opacity",opacity === undefined ? 1 : opacity);
}

// grids
plot.selectAll(null).data(years).enter().append("line")
	.attr("x1",x).attr("x2",x).attr("y1",2).attr("y2",894)
	.attr("stroke","#b0b0b0").attr("stroke-width",1.5);
hgrid(brokerTicks, yBroker, false);
hgrid(tradesTicks.slice(1), yTrades, false);
hgrid(volTicks, yVol, false);
hgrid([-0.6,0.6], yMacd, false);
hgrid(rsiTicks, yRsi, true);
hgrid([0], yMacd, true);
hgrid([0], yObv, true);

// broker
drawLine(value, yBroker, "#0000ff", 2.8);
drawLine(cash, yBroker, CRIMSON, 3, null, .88);

// trades
plot.selectAll(null).data(tradesPos).enter().append("circle")
	.attr("cx",function(d){return x(d[0]);}).attr("cy",function(d){return yTrades(d[1]);})
	.attr("r",8).attr("fill","#0000ff");
plot.selectAll(null).data(tradesNeg).enter().append("circle")
	.attr("cx",function(d){return x(d[0]);}).attr("cy",function(d){return yTrades(d[1]);})
	.attr("r",8).attr("fill","#ff0000");
hgrid([0], yTrades, true);

// volume
function volBars(vals, offset, color, op) {
	plot.selectAll(null).data(vals).enter().append("rect")
		.attr("x",function(d,i){return x(2012.01 + offset + i*0.03) - 1.8;})
		.attr("y",function(d){return yVol(d);})
		.attr("width",3.6)
		.attr("height",function(d){return yVol(0) - yVol(d);})
		.attr("fill",color).attr("opacity",op);
}
function volSpikes(vals, color, op) {
	plot.selectAll(null).data(vals).enter().append("rect")
		.attr("x",function(d){return x(d[0]) - 1;})
		.attr("y",function(d){return yVol(d[1]);})
		.attr("width",2)
		.attr("height",function(d){return yVol(0) - yVol(d[1]);})
		.attr("fill",color).attr("opacity",op);
}
volBars(volUp, 0.015, "#a2a2a2", .95);
volSpikes(spikesUp, "#a2a2a2", .95);
volBars(volDown, 0, CRIMSON, .65);
volSpikes(spikesDown, CRIMSON, .65);

// price
plot.append("line").attr("x1",0).attr("x2",W)
	.attr("y1",yPrice(dottedPrice)).attr("y2",yPrice(dottedPrice))
	.attr("stroke","#111").attr("stroke-width",1.6).attr("stroke-dasharray","1.6,2.6");
drawLine(sma100, yPrice, "#96572a", 2.7);
drawLine(bbTop, yPrice, GREEN, 2.5);
drawLine(bbBottom, yPrice, GREEN, 2.5);
drawLine(sma25, yPrice, "#9370db", 2.4);
drawLine(bbMid, yPrice, GREEN, 2.6, "7,4");
drawLine(lri, yPrice, CRIMSON, 2.8);

var tri = d3.symbol().type(d3.symbolTriangle).size(185);
plot.selectAll(null).data(buys).enter().append("path")
	.attr("d",tri)
	.attr("transform",function(d){return "translate("+x(d[0])+","+yPrice(d[1])+")";})
	.attr("fill","#00ff00");
plot.selectAll(null).data(sells).enter().append("path")
	.attr("d",tri)
	.attr("transform",function(d){return "translate("+x(d[0])+","+yPrice(d[1])+") rotate(180)";})
	.attr("fill","#ff0000");
drawLine(closePrice, yPrice, "#000", 3.1);

// rsi, macd, obv
drawLine(rsi, yRsi, CRIMSON, 2.7);
drawLine(signal, yMacd, "#0000ff", 2.7, "7,4");
drawLine(macd, yMacd, CRIMSON, 2.6);
drawLine(obv, yObv, "#c184ca", 3);

// spines
[2,92.3,181,626.7,715.7,804,894.3].forEach(function(yy,i){
	root.append("line").attr("x1",0).attr("x2",W).attr("y1",yy).attr("y2",yy)
		.attr("stroke",(i===0||i===4) ? "#333" : "#222").attr("stroke-width",(i===5||i===0) ? 1.2 : 1.7);
});
root.append("line").attr("x1",.5).attr("x2",.5).attr("y1",2).attr("y2",894).attr("stroke","#222").attr("stroke-width",1.2);
root.append("line").attr("x1",W).attr("x2",W).attr("y1",2).attr("y2",894).attr("stroke","#111").attr("stroke-width",1.4);
root.append("line").attr("x1",0).attr("x2",clipW).attr("y1",941).attr("y2",941).attr("stroke","#f0f0f0");

// axes
function rightAxis(scale, vals, fmt) {
	var ax = d3.axisRight(scale).tickValues(vals).tickSize(5).tickPadding(8).tickFormat(fmt || d3.format("d"));
	var g = root.append("g").attr("transform","translate("+W+",0)").call(ax);
	g.select(".domain").remove();
	g.selectAll("line").attr("stroke","#111").attr("stroke-width",1.2);
	g.selectAll("text").attr("font-size",17).attr("font-family","DejaVu Sans").attr("fill",TXT);
}
rightAxis(yBroker, brokerTicks, function(d){return String(d*1000000);});
rightAxis(yTrades, tradesTicks);
rightAxis(yPrice, priceTicks);
rightAxis(yRsi, rsiTicks);
rightAxis(yMacd, [-0.6,0.6], function(d){return d<0 ? "\u2212"+(-d) : String(d);});
rightAxis(yObv, obvTicks);

var xAx = d3.axisBottom(x).tickValues(years).tickSize(5).tickFormat(d3.format("d"));
var xg = root.append("g").attr("transform","translate(0,894.3)").call(xAx);
xg.select(".domain").remove();
xg.selectAll("line").attr("stroke","#111").attr("stroke-width",1.2);
xg.selectAll("text").attr("font-size",17.5).attr("font-family","DejaVu Sans").attr("fill",TXT)
	.attr("y",0).attr("dy",".35em").attr("text-anchor","middle")
	.attr("transform","translate(-2,24) rotate(-15)");

// value tags to the right of the plot
function tag(cy, txt, color, x1) {
	var x0 = 1724, h = 23;
	root.append("polygon")
		.attr("points",[[x0-4,cy],[x0,cy-h/2],[x1,cy-h/2],[x1,cy+h/2],[x0,cy+h/2]].join(" "))
		.attr("fill","#fff").attr("fill-opacity",.9).attr("stroke",color).attr("stroke-width",1.6);
	root.append("text").attr("x",x0+2).attr("y",cy).attr("dy",".36em")
		.attr("font-size",15.4).attr("fill",TXT).text(txt);
}
tag(yBroker(4.72), "4545148.63", CRIMSON, 1840);
tag(yPrice(6.19), "6.19", "#96572a", 1765);
tag(yPrice(5.75), "5.70", GREEN, 1765);
tag(yPrice(5.42), "5.34", GREEN, 1765);
tag(yPrice(5.0), "4.97", CRIMSON, 1765);
tag(yPrice(4.89), "4.89", "#222", 1765);
tag(yRsi(19.89), "19.89", CRIMSON, 1775);
tag(yMacd(-0.11), "-0.15", "#0000ff", 1771);
tag(yMacd(-0.17), "-0.19", CRIMSON, 1771);
tag(yObv(14.908), "14908013.00", "#7fe0d8", 1840);

// legends
function legendText(lines) {
	lines.forEach(function(l){
		root.append("text").attr("x",l[1]).attr("y",l[0]).attr("dy",".36em")
			.attr("font-size",16.3).attr("fill",TXT).attr("opacity",.92).text(l[2]);
	});
}
function legendLine(cy, color, width, dash) {
	root.append("line").attr("x1",12).attr("x2",45).attr("y1",cy).attr("y2",cy)
		.attr("stroke",color).attr("stroke-width",width).attr("stroke-dasharray",dash || null);
}
legendLine(34, CRIMSON, 2.4);
legendLine(65, "#0000ff", 2.4);
legendText([[23,57,"Broker (None)"],[42,57,"cash 4545148.63"],[66,57,"value 4545148.63"]]);
root.append("circle").attr("cx",30).attr("cy",125).attr("r",8).attr("fill","#0000ff");
root.append("circle").attr("cx",30).attr("cy",156).attr("r",8).attr("fill","#ff0000");
legendText([[112,57,"Trades - Net Profit/Loss"],[131,57,"Positive"],[155,57,"Negative"]]);

root.append("path").attr("d","M16,207 L24,200 L30,203 L41,196").attr("fill","none").attr("stroke","#000").attr("stroke-width",2.4);
root.append("rect").attr("x",13).attr("y",227).attr("width",10).attr("height",6).attr("fill","#bbb").attr("stroke","#999");
root.append("rect").attr("x",35).attr("y",224).attr("width",10).attr("height",9).attr("fill","#bbb").attr("stroke","#999");
root.append("rect").attr("x",23).attr("y",221).attr("width",12).attr("height",12).attr("fill",CRIMSON).attr("fill-opacity",.35).attr("stroke",CRIMSON).attr("stroke-opacity",.7);
root.append("path").attr("d",tri).attr("transform","translate(30,262)").attr("fill","#00ff00");
root.append("path").attr("d",tri).attr("transform","translate(30,293) rotate(180)").attr("fill","#ff0000");
legendLine(316, CRIMSON, 2.4);
legendLine(340, GREEN, 2.4, "7,4");
legendLine(364, "#9370db", 2.4);
legendLine(389, "#96572a", 2.6);
legendText([[201,57,"CLUB (1 Day) C:4.89"],[227,57,"Volume"],[250,57,"BuySell (True, 0.015)"],[269,57,"buy"],[293,58,"sell"],
	[315,57,"LinearRegressionIndicator (20, False) 4.97"],[341,57,"BollingerBands (20, 1.5) 5.34"],[364,57,"MovingAverageSimple (25) 5.38"],[389,57,"MovingAverageSimple (100) 6.19"]]);

legendLine(659, CRIMSON, 2.4);
legendText([[648,57,"RSI_EMA (12)"],[667,57,"rsi 19.89"]]);
legendLine(747, CRIMSON, 2.4);
legendLine(779, "#0000ff", 2.4, "7,4");
legendText([[736,57,"MACD (12, 26, 9)"],[755,57,"macd -0.19"],[778,57,"signal -0.15"]]);
legendLine(836, "#c184ca", 2.4);
legendText([[826,58,"OnBalanceVolume"],[845,57,"OBV 14908013.00"]]);

// annotations pasted on top of the plot
root.append("line").attr("x1",x(splitYear)).attr("x2",x(splitYear)).attr("y1",0).attr("y2",896)
	.attr("stroke","#22ac50").attr("stroke-width",2.8);
root.append("text").attr("x",741).attr("y",250).attr("font-family","Lato").attr("font-size",30)
	.attr("textLength",175).attr("lengthAdjust","spacingAndGlyphs")
	.attr("fill","#000").text("Training data");
root.append("text").attr("x",1234).attr("y",250).attr("font-family","Lato").attr("font-size",30)
	.attr("textLength",121).attr("lengthAdjust","spacingAndGlyphs")
	.attr("fill","#000").text("Test data");
</script>
</body>
</html>
